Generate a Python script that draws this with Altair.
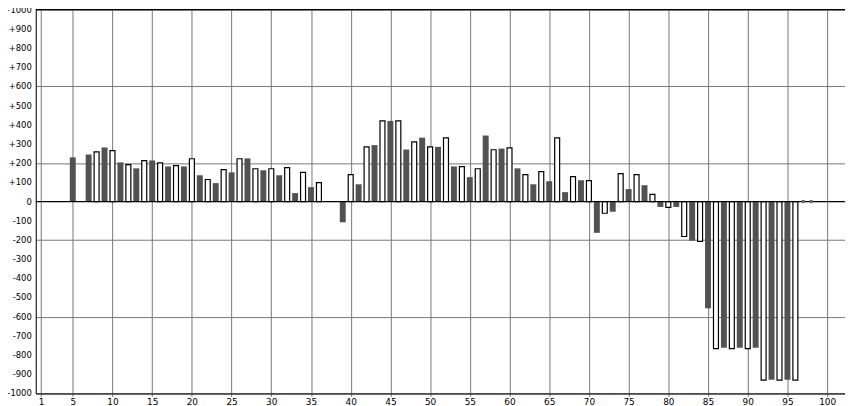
import altair as alt
import pandas as pd

# Bar positions (x) and values
xs = [5, 7, 8, 9, 10, 11, 12, 13, 14, 15, 16, 17, 18, 19, 20, 21, 22, 23, 24,
      25, 26, 27, 28, 29, 30, 31, 32, 33, 34, 35, 36, 39, 40, 41, 42, 43, 44,
      45, 46, 47, 48, 49, 50, 51, 52, 53, 54, 55, 56, 57, 58, 59, 60, 61, 62,
      63, 64, 65, 66, 67, 68, 69, 70, 71, 72, 73, 74, 75, 76, 77, 78, 79, 80,
      81, 82, 83, 84, 85, 86, 87, 88, 89, 90, 91, 92, 93, 94, 95, 96]
vals = [230, 245, 259, 282, 265, 204, 192, 173, 213, 214, 202, 183, 187, 183, 223,
        137, 115, 96, 166, 152, 223, 225, 171, 163, 171, 137, 177, 44, 152, 75, 99,
        -108, 140, 90, 285, 294, 420, 420, 420, 271, 311, 333, 285, 285, 332, 183,
        182, 127, 171, 344, 270, 276, 280, 173, 140, 90, 156, 106, 332, 49, 130,
        111, 109, -163, -61, -53, 146, 65, 140, 85, 37, -28, -30, -28, -182, -204,
        -208, -556, -766, -762, -766, -762, -766, -762, -931, -928, -931, -928, -931]
zero_xs = [97, 98]

x_ticks = [1] + list(range(5, 101, 5))
y_ticks = list(range(-1000, 1001, 100))
y_labels = [("+%d" % v) if v > 0 else str(v) for v in y_ticks]

df = pd.DataFrame({"x": xs, "v": vals})
df["kind"] = ["dark" if x % 2 == 1 else "light" for x in xs]
dark = df[df.kind == "dark"]
light = df[df.kind == "light"]
zeros = pd.DataFrame({"x": zero_xs, "v": [0] * len(zero_xs)})
ylab = pd.DataFrame({"y": y_ticks, "label": y_labels})

xscale = alt.Scale(domain=[0.34, 102.25], nice=False, zero=False, padding=0)
yscale = alt.Scale(domain=[-1000, 1000], nice=False, padding=0)

font = "DejaVu Sans"
xaxis = alt.Axis(values=x_ticks, grid=True, gridColor="#777777", gridWidth=1,
                 domainColor="black", tickColor="#777777", tickSize=3,
                 labelFont=font, labelFontSize=9, labelColor="black",
                 labelPadding=1, labelFlush=False, labelOverlap=False, title=None)
yaxis = alt.Axis(values=y_ticks, grid=True, gridColor="#777777", gridWidth=1,
                 domainColor="black", tickSize=0, labels=False, title=None)

dark_bars = alt.Chart(dark).mark_bar(color="#525252", size=6).encode(
    x=alt.X("x:Q", scale=xscale, axis=xaxis),
    y=alt.Y("v:Q", scale=yscale, axis=yaxis),
    y2=alt.datum(0),
)
light_bars = alt.Chart(light).mark_bar(fill="white", stroke="black", strokeWidth=1.2, size=5).encode(
    x=alt.X("x:Q", scale=xscale),
    y=alt.Y("v:Q", scale=yscale),
    y2=alt.datum(0),
)
zero_marks = alt.Chart(zeros).mark_square(size=10, color="#6a6a6a", opacity=1).encode(
    x=alt.X("x:Q", scale=xscale),
    y=alt.Y("v:Q", scale=yscale),
)
lines = alt.Chart(pd.DataFrame({"y": [0, 1000]})).mark_rule(color="black", strokeWidth=1.2).encode(
    y=alt.Y("y:Q", scale=yscale)
)
ytext = alt.Chart(ylab).mark_text(align="right", baseline="middle", font=font,
                                   fontSize=8.5, color="black").encode(
    x=alt.value(-4),
    y=alt.Y("y:Q", scale=yscale),
    text="label:N",
)

chart = alt.layer(dark_bars, light_bars, lines, zero_marks, ytext).properties(
    width=816, height=387,
    autosize=alt.AutoSizeParams(type="none"),
    padding={"left": 28, "top": 0, "right": 0, "bottom": 13},
).configure_view(stroke="black", strokeWidth=1).configure(background="white")

chart.save("out.html", embed_options={"renderer": "svg", "actions": False})
